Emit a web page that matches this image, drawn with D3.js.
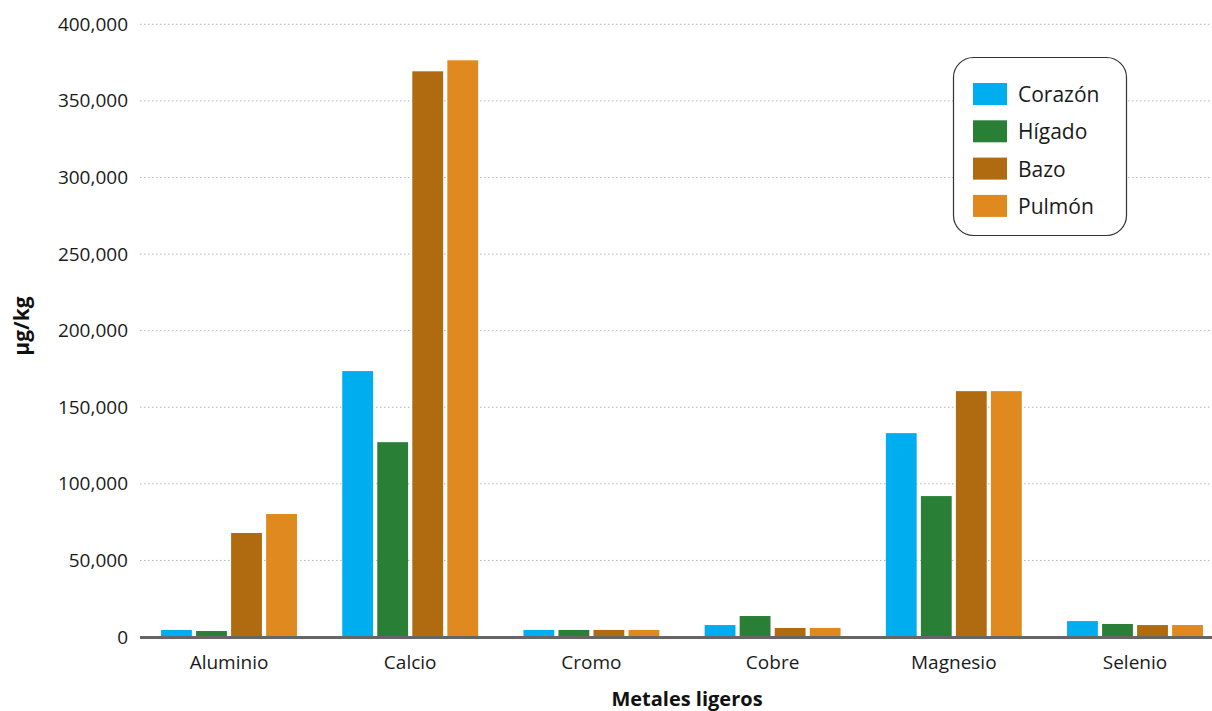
<!DOCTYPE html>
<html>
<head>
<meta charset="utf-8">
<script src="https://cdn.jsdelivr.net/npm/d3@7"></script>
<style>
  html, body { margin: 0; padding: 0; background: #fff; }
  svg { display: block; font-family: "Open Sans", "Noto Sans", sans-serif; }
</style>
</head>
<body>
<svg id="chart" width="1212" height="711"></svg>
<script>
const categories = ["Aluminio", "Calcio", "Cromo", "Cobre", "Magnesio", "Selenio"];
const seriesNames = ["Corazón", "Hígado", "Bazo", "Pulmón"];
const corazon = [4600, 173600, 4600, 7800, 133100, 10400];
const higado  = [3900, 127200, 4600, 13700, 92000, 8500];
const bazo    = [67900, 369300, 4600, 5900, 160500, 7800];
const pulmon  = [80300, 376500, 4600, 5900, 160500, 7800];
const seriesValues = [corazon, higado, bazo, pulmon];
const seriesColors = ["#00AEEF", "#2A7F37", "#B06B10", "#E0891E"];
const yTicks = [0, 50000, 100000, 150000, 200000, 250000, 300000, 350000, 400000];
const xTitle = "Metales ligeros";
const yTitle = "µg/kg";

const svg = d3.select("#chart");
const plotLeft = 140, plotRight = 1210;

const y = d3.scaleLinear().domain([0, 400000]).range([637, 24.3]);
const x0 = d3.scaleBand().domain(categories).range([138.4, 1225.6])
  .paddingInner(0.25).paddingOuter(0.125);
const x1 = d3.scaleBand().domain(seriesNames).range([0, x0.bandwidth()]).paddingInner(0.12);

const fmt = d3.format(",");

// gridlines
svg.append("g").selectAll("line").data(yTicks.filter(d => d > 0)).join("line")
  .attr("x1", plotLeft).attr("x2", plotRight)
  .attr("y1", d => y(d)).attr("y2", d => y(d))
  .attr("stroke", "#b5b5b5").attr("stroke-width", 1)
  .attr("stroke-dasharray", "1.5,2.5");

// y axis via d3.axisLeft (no domain line)
const yAxis = svg.append("g").attr("transform", `translate(${plotLeft},0)`)
  .call(d3.axisLeft(y).tickValues(yTicks).tickFormat(fmt).tickSize(0).tickPadding(12));
yAxis.select(".domain").remove();
yAxis.selectAll("text").attr("font-size", 19).attr("fill", "#1a1a1a")
  .attr("font-family", "'Open Sans', sans-serif");

// bars
const groups = svg.append("g").selectAll("g").data(categories).join("g")
  .attr("transform", d => `translate(${x0(d)},0)`);
groups.selectAll("rect")
  .data((c, i) => seriesNames.map((s, j) => ({ s, v: seriesValues[j][i], color: seriesColors[j] })))
  .join("rect")
  .attr("x", d => x1(d.s))
  .attr("width", x1.bandwidth())
  .attr("y", d => y(d.v))
  .attr("height", d => y(0) - y(d.v))
  .attr("fill", d => d.color);

// x axis
const xAxis = svg.append("g").attr("transform", `translate(0,${y(0)})`)
  .call(d3.axisBottom(x0).tickSize(0).tickPadding(19));
xAxis.select(".domain").remove();
xAxis.selectAll("text").attr("font-size", 19).attr("fill", "#1a1a1a")
  .attr("font-family", "'Open Sans', sans-serif");
svg.append("line")
  .attr("x1", plotLeft).attr("x2", 1212)
  .attr("y1", y(0) + 0.5).attr("y2", y(0) + 0.5)
  .attr("stroke", "#666").attr("stroke-width", 3);

// axis titles
svg.append("text").attr("x", 687).attr("y", 706).attr("text-anchor", "middle")
  .attr("font-size", 20).attr("font-weight", "bold").attr("fill", "#111")
  .text(xTitle);
svg.append("text").attr("transform", "translate(29,326) rotate(-90)")
  .attr("text-anchor", "middle").attr("font-size", 21).attr("font-weight", "bold")
  .attr("fill", "#111").text(yTitle);

// legend
const lg = svg.append("g");
lg.append("rect").attr("x", 953.5).attr("y", 57.5).attr("width", 173).attr("height", 178)
  .attr("rx", 20).attr("ry", 20).attr("fill", "#fff").attr("stroke", "#333").attr("stroke-width", 1.2);
const items = lg.selectAll("g.item").data(seriesNames).join("g").attr("class", "item")
  .attr("transform", (d, i) => `translate(973,${83 + i * 37.3})`);
items.append("rect").attr("width", 34).attr("height", 22)
  .attr("fill", (d, i) => seriesColors[i]);
items.append("text").attr("x", 45).attr("y", 19).attr("font-size", 21)
  .attr("fill", "#1a1a1a").text(d => d);
</script>
</body>
</html>
